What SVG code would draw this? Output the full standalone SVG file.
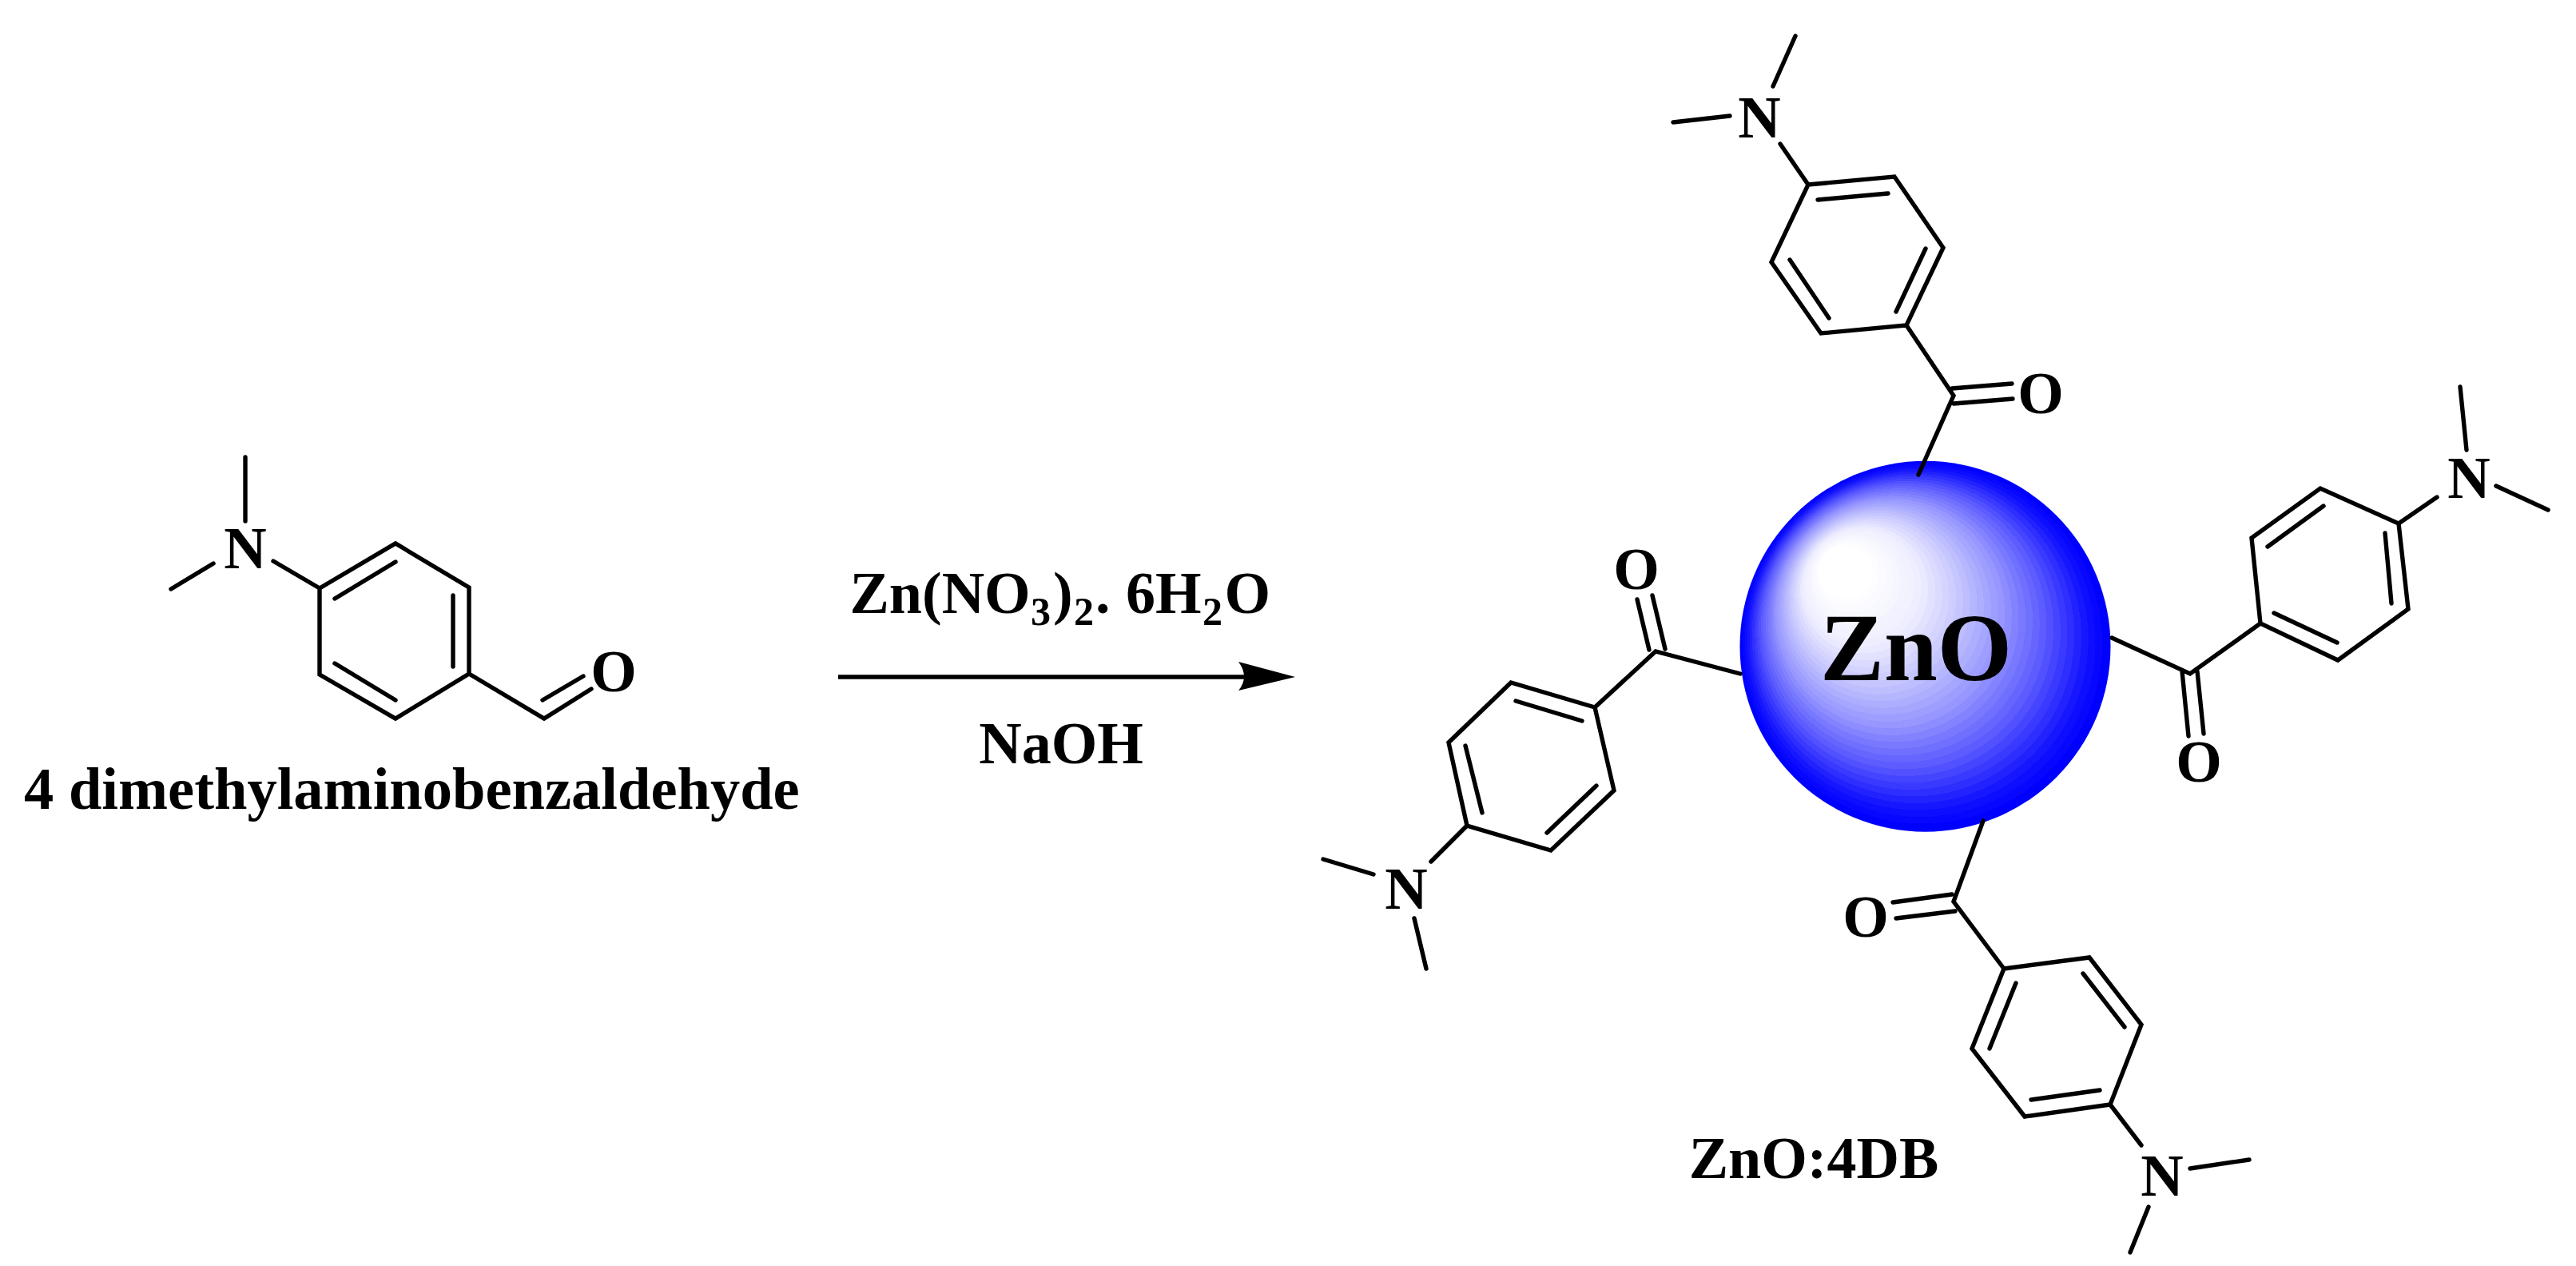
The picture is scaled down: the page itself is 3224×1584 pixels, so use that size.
<svg xmlns="http://www.w3.org/2000/svg" width="3224" height="1584" viewBox="0 0 3224 1584">
<style>
text{font-family:"Liberation Serif","Times New Roman",serif;font-weight:700;fill:#000}
.a{font-size:74px;text-anchor:middle}
.l{font-size:74.5px}
.s{font-size:50px}
.b{fill:none;stroke:#000;stroke-width:5.4;stroke-linecap:round;stroke-linejoin:miter}
</style>
<defs>
<radialGradient id="sph" gradientUnits="userSpaceOnUse" cx="2409.5" cy="808.7" r="232" fx="2293" fy="700">
<stop offset=".145" stop-color="#fff"/><stop offset=".145" stop-color="#fdfdff"/>
<stop offset=".17" stop-color="#fdfdff"/><stop offset=".17" stop-color="#fafaff"/>
<stop offset=".195" stop-color="#fafaff"/><stop offset=".195" stop-color="#f8f8ff"/>
<stop offset=".22" stop-color="#f8f8ff"/><stop offset=".22" stop-color="#f6f6ff"/>
<stop offset=".245" stop-color="#f6f6ff"/><stop offset=".245" stop-color="#f3f3ff"/>
<stop offset=".27" stop-color="#f3f3ff"/><stop offset=".27" stop-color="#f1f1ff"/>
<stop offset=".295" stop-color="#f1f1ff"/><stop offset=".295" stop-color="#eeeeff"/>
<stop offset=".32" stop-color="#eeeeff"/><stop offset=".32" stop-color="#e9e9ff"/>
<stop offset=".345" stop-color="#e9e9ff"/><stop offset=".345" stop-color="#e2e2ff"/>
<stop offset=".37" stop-color="#e2e2ff"/><stop offset=".37" stop-color="#dbdbff"/>
<stop offset=".395" stop-color="#dbdbff"/><stop offset=".395" stop-color="#d4d4ff"/>
<stop offset=".42" stop-color="#d4d4ff"/><stop offset=".42" stop-color="#cdcdff"/>
<stop offset=".445" stop-color="#cdcdff"/><stop offset=".445" stop-color="#c6c6ff"/>
<stop offset=".47" stop-color="#c6c6ff"/><stop offset=".47" stop-color="#bebeff"/>
<stop offset=".495" stop-color="#bebeff"/><stop offset=".495" stop-color="#b6b6ff"/>
<stop offset=".52" stop-color="#b6b6ff"/><stop offset=".52" stop-color="#aeaeff"/>
<stop offset=".545" stop-color="#aeaeff"/><stop offset=".545" stop-color="#a6a6ff"/>
<stop offset=".57" stop-color="#a6a6ff"/><stop offset=".57" stop-color="#9e9eff"/>
<stop offset=".595" stop-color="#9e9eff"/><stop offset=".595" stop-color="#9797ff"/>
<stop offset=".62" stop-color="#9797ff"/><stop offset=".62" stop-color="#8d8dff"/>
<stop offset=".645" stop-color="#8d8dff"/><stop offset=".645" stop-color="#8383ff"/>
<stop offset=".67" stop-color="#8383ff"/><stop offset=".67" stop-color="#7979ff"/>
<stop offset=".695" stop-color="#7979ff"/><stop offset=".695" stop-color="#7070ff"/>
<stop offset=".72" stop-color="#7070ff"/><stop offset=".72" stop-color="#6666ff"/>
<stop offset=".745" stop-color="#6666ff"/><stop offset=".745" stop-color="#5c5cff"/>
<stop offset=".77" stop-color="#5c5cff"/><stop offset=".77" stop-color="#5151ff"/>
<stop offset=".795" stop-color="#5151ff"/><stop offset=".795" stop-color="#4545ff"/>
<stop offset=".82" stop-color="#4545ff"/><stop offset=".82" stop-color="#3939ff"/>
<stop offset=".845" stop-color="#3939ff"/><stop offset=".845" stop-color="#2e2eff"/>
<stop offset=".87" stop-color="#2e2eff"/><stop offset=".87" stop-color="#2222ff"/>
<stop offset=".895" stop-color="#2222ff"/><stop offset=".895" stop-color="#1616ff"/>
<stop offset=".92" stop-color="#1616ff"/><stop offset=".92" stop-color="#0d0dff"/>
<stop offset=".945" stop-color="#0d0dff"/><stop offset=".945" stop-color="#0707ff"/>
<stop offset=".97" stop-color="#0707ff"/><stop offset=".97" stop-color="#00f"/>
</radialGradient>
<marker id="head" markerUnits="userSpaceOnUse" markerWidth="72" markerHeight="38" refX="9" refY="19" orient="auto">
<path d="M0 0L71 19L0 36Q14 19 0 0Z" fill="#000"/>
</marker>
</defs>
<rect width="3224" height="1584" fill="#fff"/>
<g id="reagent">
<path class="b" d="M307 572V652M267 705L214 737M342 702L400 736M400 736L495 680L587 735V843L495 899L400 844ZM419 749L495 703M567 745V834M419 830L495 876M587 843L681 899L740 862M679 876L730 846"/>
<text class="a" x="307" y="711">N</text>
<text class="a" x="768" y="865">O</text>
</g>
<text id="reagent-name" class="l" x="30" y="1012">4 dimethylaminobenzaldehyde</text>
<g id="conditions">
<text font-size="74" y="767"><tspan x="1063.5">Zn(NO</tspan><tspan class="s" x="1290" y="782">3</tspan><tspan x="1318" y="767">)</tspan><tspan class="s" x="1344" y="782">2</tspan><tspan x="1371" y="767">.</tspan><tspan x="1409">6H</tspan><tspan class="s" x="1505" y="782">2</tspan><tspan x="1532.5" y="767">O</tspan></text>
<text class="a" x="1328" y="955">NaOH</text>
</g>
<g id="connectors">
<line x1="1049" y1="847" x2="1559" y2="847" stroke="#000" stroke-width="5.4" marker-end="url(#head)"/>
</g>
<g id="zno-core">
<circle cx="2409.5" cy="808.7" r="232" fill="url(#sph)"/>
<text x="2398" y="851" font-size="120" text-anchor="middle">ZnO</text>
</g>
<g id="ligand-top">
<path class="b" d="M2247 45L2219 108M2094 153L2165 145M2228 180L2263 231M2263 231L2371 221L2432 310L2386 407L2279 417L2217 328ZM2275 250L2363 242M2410 311L2373 390M2289 398L2240 325M2386 407L2445 495L2401 594M2443 486L2518 480M2445 505L2519 499"/>
<text class="a" x="2202" y="172">N</text>
<text class="a" x="2554" y="517">O</text>
</g>
<g id="ligand-right">
<path class="b" d="M2643 798L2741 843L2829 780M2829 780L2818 673L2904 611L3002 655L3014 762L2926 826ZM2838 684L2908 633M2985 667L2993 755M2846 767L2925 804M3002 655L3050 622M3079 484L3087 563M3124 608L3189 638M2731 840L2739 921M2750 840L2758 918"/>
<text class="a" x="3090" y="623">N</text>
<text class="a" x="2752" y="978">O</text>
</g>
<g id="ligand-bottom">
<path class="b" d="M2482 1027L2445 1128L2508 1212M2369 1129L2443 1119M2373 1149L2447 1140M2508 1212L2615 1198L2680 1282L2641 1382L2534 1397L2468 1312ZM2523 1230L2490 1312M2607 1218L2659 1285M2542 1376L2628 1364M2641 1382L2680 1433M2741 1462L2815 1451M2689 1510L2666 1567"/>
<text class="a" x="2706" y="1496">N</text>
<text class="a" x="2335" y="1172">O</text>
</g>
<g id="ligand-left">
<path class="b" d="M2178 843L2072 815L1996 885M2049 750L2064 813M2068 745L2084 812M1996 885L1891 854L1813 929L1836 1033L1941 1064L2020 989ZM1897 877L1980 902M1834 933L1855 1017M1936 1042L1998 983M1836 1033L1791 1078M1656 1075L1719 1094M1770 1149L1785 1212"/>
<text class="a" x="1760" y="1137">N</text>
<text class="a" x="2048" y="737">O</text>
</g>
<text id="product-name" class="a" x="2270" y="1474">ZnO:4DB</text>
</svg>
